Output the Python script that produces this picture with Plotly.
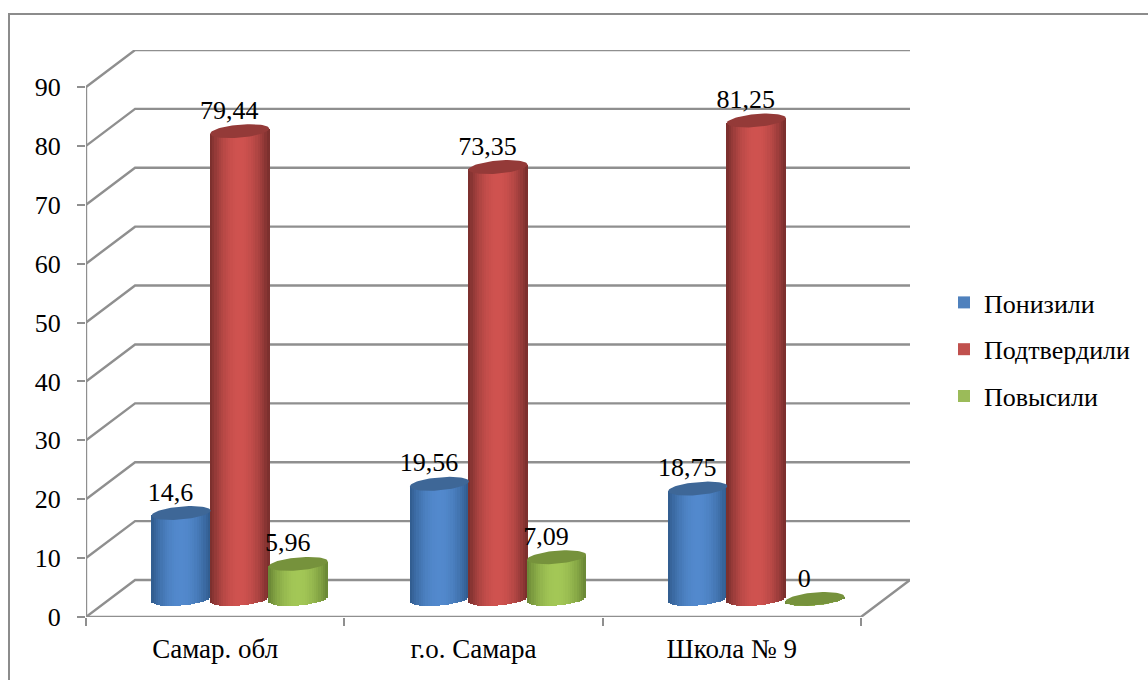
import numpy as np
import plotly.graph_objects as go

categories = ["Самар. обл", "г.о. Самара", "Школа № 9"]
series_names = ["Понизили", "Подтвердили", "Повысили"]
ponizili = [14.6, 19.56, 18.75]
podtverdili = [79.44, 73.35, 81.25]
povysili = [5.96, 7.09, 0]
labels_ponizili = ["14,6", "19,56", "18,75"]
labels_podtverdili = ["79,44", "73,35", "81,25"]
labels_povysili = ["5,96", "7,09", "0"]
y_ticks = [0, 10, 20, 30, 40, 50, 60, 70, 80, 90]

FONT = "Liberation Serif"
GRID = "#8f8f8f"
PX_X = 258.0
PX_Y = 5.889
DX = 49 / PX_X
DY = 37 / PX_Y
XMIN, XMAX = -0.5, 2.5
BAR_DX = 24.5 / PX_X
BAR_BASE = 18 / PX_Y
STEP = 58.5 / PX_X
A = 29.5 / PX_X
B = 6.5 / PX_Y
K = 2.5 / PX_Y
N = 26

styles = [
    dict(edge="#2f5a8c", mid="#5289cd", top="#3e6797", swatch="#4f81bd"),
    dict(edge="#762d2b", mid="#cf524f", top="#943a38", swatch="#c0504d"),
    dict(edge="#688534", mid="#a3c756", top="#76923c", swatch="#9bbb59"),
]
series = [
    (ponizili, labels_ponizili),
    (podtverdili, labels_podtverdili),
    (povysili, labels_povysili),
]


def mix(c1, c2, w):
    a = [int(c1[i:i + 2], 16) for i in (1, 3, 5)]
    b = [int(c2[i:i + 2], 16) for i in (1, 3, 5)]
    return "rgb(%d,%d,%d)" % tuple(round(p + (q - p) * w) for p, q in zip(a, b))


fig = go.Figure()
shapes = []


def grid_line(xs, ys):
    path = "M" + " L".join(f"{x},{y}" for x, y in zip(xs, ys))
    shapes.append(dict(type="path", path=path, xref="x", yref="y", layer="below",
                       line=dict(color=GRID, width=2.4)))


for v in y_ticks:
    grid_line([XMIN, XMIN + DX, XMAX + DX], [v, v + DY, v + DY])
grid_line([XMIN, XMIN], [0, y_ticks[-1]])
grid_line([XMIN, XMAX, XMAX + DX], [0, 0, DY])

for s, ((vals, labs), st, name) in enumerate(zip(series, styles, series_names)):
    offs = (s - 1) * STEP + BAR_DX
    cx = [i + offs for i in range(len(vals))]
    # Solid bar carrying the value (and the legend swatch), hidden under the shaded strips
    fig.add_trace(go.Bar(x=cx, y=vals, base=[BAR_BASE] * len(vals), width=A * 1.2,
                         name=name, legendgroup=name,
                         marker=dict(color=st["swatch"], line=dict(width=0))))
    # Shaded strips giving the cylinder look
    sx, sb, sh, sc = [], [], [], []
    us = (np.arange(N) + 0.5) / N * 2 - 1
    for c, v in zip(cx, vals):
        for u in us:
            root = np.sqrt(1 - u * u)
            low = BAR_BASE + K * u - B * root
            high = BAR_BASE + v + K * u
            sx.append(c + A * u)
            sb.append(low)
            sh.append(high - low)
            sc.append(mix(st["edge"], st["mid"], 1 - abs(u) ** 2.0))
    fig.add_trace(go.Bar(x=sx, y=sh, base=sb, width=2 * A / N * 1.3, showlegend=False,
                         marker=dict(color=sc, line=dict(width=0))))

for (vals, labs), st, s in zip(series, styles, range(3)):
    offs = (s - 1) * STEP + BAR_DX
    for i, v in enumerate(vals):
        t = np.linspace(0, 2 * np.pi, 73)
        fig.add_trace(go.Scatter(
            x=i + offs + A * np.cos(t),
            y=BAR_BASE + v + B * np.sin(t) + K * np.cos(t),
            mode="lines", fill="toself", fillcolor=st["top"],
            line=dict(width=0), showlegend=False))

for (vals, labs), s in zip(series, range(3)):
    offs = (s - 1) * STEP + BAR_DX
    fig.add_trace(go.Scatter(
        x=[i + offs - 10.5 / PX_X for i in range(len(vals))],
        y=[BAR_BASE + v + 19 / PX_Y for v in vals],
        mode="text", text=labs, textposition="middle center",
        textfont=dict(family=FONT, size=26, color="black"),
        showlegend=False, cliponaxis=False))

# Outer frame of the chart area (open at the page edges)
L, R, T, Bm = 86, 238, 50, 63
W, H = 1148, 680
pw, ph = W - L - R, H - T - Bm
shapes.append(dict(type="rect", xref="paper", yref="paper",
                   x0=(9 - L) / pw, x1=(W + 20 - L) / pw,
                   y0=(H - Bm - 700) / ph, y1=(H - Bm - 14) / ph,
                   line=dict(color="#8c8c8c", width=2), layer="below"))

fig.update_layout(
    width=W, height=H, margin=dict(l=L, r=R, t=T, b=Bm, pad=0),
    paper_bgcolor="white", plot_bgcolor="rgba(0,0,0,0)",
    barmode="overlay", bargap=0, shapes=shapes,
    font=dict(family=FONT, size=26, color="black"),
    legend=dict(x=(944 - L) / pw, y=(H - Bm - 279) / ph, xanchor="left", yanchor="top",
                tracegroupgap=10, itemwidth=30, bgcolor="rgba(0,0,0,0)",
                font=dict(family=FONT, size=26)),
    xaxis=dict(range=[XMIN, XMAX + DX], tickvals=list(range(len(categories))),
               ticktext=categories, ticks="", showgrid=False, zeroline=False, showline=False,
               tickfont=dict(family=FONT, size=27),
               ticklabelstandoff=13,
               minor=dict(tickvals=[-0.5, 0.5, 1.5, 2.5], ticks="outside", ticklen=8,
                          tickwidth=2, tickcolor=GRID, showgrid=False)),
    yaxis=dict(range=[0, y_ticks[-1] + DY], tickvals=y_ticks, ticks="outside", ticklen=8,
               tickwidth=2, tickcolor=GRID, showgrid=False, zeroline=False, showline=False,
               tickfont=dict(family=FONT, size=26), ticklabelstandoff=11),
)

fig.write_html("out.html", config=dict(displayModeBar=False),
               post_script="document.body.style.margin='0';")
